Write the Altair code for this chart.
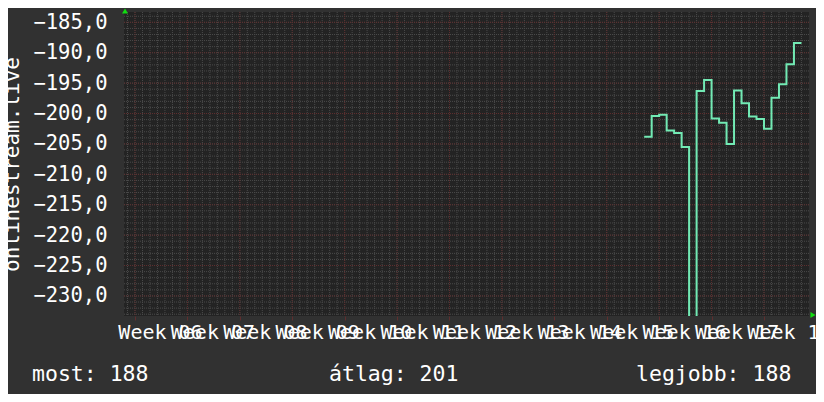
import altair as alt
import pandas as pd

# ---------------- data ----------------
first_day = "2024-04-13"
values = [-203.8, -200.4, -200.2, -202.8, -203.2, -205.5, -236.0, -196.3,
          -194.5, -200.8, -201.5, -205.0, -196.2, -198.3, -200.5, -200.9,
          -202.5, -197.4, -195.2, -191.9, -188.4, -188.4]
series_name = "onlinestream.live"
summary_names = ["most", "átlag", "legjobb"]
summary_values = [188, 201, 188]

week_starts = ["2024-02-05", "2024-02-12", "2024-02-19", "2024-02-26", "2024-03-04",
               "2024-03-11", "2024-03-18", "2024-03-25", "2024-04-01", "2024-04-08",
               "2024-04-15", "2024-04-22", "2024-04-29"]
y_major = [-230, -225, -220, -215, -210, -205, -200, -195, -190, -185]
y_minor = list(range(-233, -183))
x_domain = ["2024-02-03T12:45:00Z", "2024-05-05T00:15:00Z"]
y_domain = [-233.3, -183.3]

# ---------------- helpers ----------------
def ms(s):
    t = pd.Timestamp(s)
    if t.tzinfo is None:
        t = t.tz_localize("UTC")
    return int(t.timestamp() * 1000)

dates = pd.date_range(first_day, periods=len(values), freq="D", tz="UTC")
df = pd.DataFrame({"t": [int(d.timestamp() * 1000) for d in dates], "v": values})

days = pd.date_range("2024-02-04", "2024-05-04", freq="D", tz="UTC")
df_days = pd.DataFrame({"t": [int(d.timestamp() * 1000) for d in days]})
df_weeks = pd.DataFrame({"t": [ms(w) for w in week_starts]})
df_ymin = pd.DataFrame({"v": y_minor})
df_ymaj = pd.DataFrame({"v": y_major})

W, H = 685, 304
FONT = "DejaVu Sans Mono"
TXT = "#ffffff"

xs = alt.Scale(type="utc", domain=[ms(x_domain[0]), ms(x_domain[1])])
ys = alt.Scale(domain=y_domain, nice=False, zero=False)

minor_col = "#4a4a4a"
major_col = "#5e2e2e"

x_axis = alt.Axis(
    values=[ms(w) for w in week_starts],
    labelExpr="'Week ' + utcFormat(datum.value, '%V')",
    grid=False, domain=False, ticks=True, tickColor=major_col, tickSize=4,
    labelOffset=25, labelOverlap=False, labelFlush=False, labelBound=False,
    labelFont=FONT, labelFontSize=20, labelColor=TXT, labelPadding=2, title=None)

y_axis = alt.Axis(
    values=y_major,
    labelExpr="replace(format(datum.value, '.1f'), '.', ',')",
    grid=False, domain=False, ticks=False,
    labelFont=FONT, labelFontSize=20.5, labelColor=TXT, labelPadding=17,
    labelOverlap=False, labelFlush=False, labelBound=False,
    title=series_name, titleFont=FONT, titleFontSize=21, titleFontWeight="normal",
    titleColor=TXT, titleAngle=270, titleX=-106, titleY=H / 2,
    titleAlign="center", titleBaseline="alphabetic")

vmin = alt.Chart(df_days).mark_rule(color=minor_col, strokeDash=[1, 1], strokeWidth=1).encode(
    x=alt.X("t:T", scale=xs, axis=x_axis))
hmin = alt.Chart(df_ymin).mark_rule(color=minor_col, strokeDash=[1, 1], strokeWidth=1).encode(
    y=alt.Y("v:Q", scale=ys, axis=y_axis))
vmaj = alt.Chart(df_weeks).mark_rule(color=major_col, strokeDash=[1, 1], strokeWidth=1).encode(
    x=alt.X("t:T", scale=xs, axis=x_axis))
hmaj = alt.Chart(df_ymaj).mark_rule(color=major_col, strokeDash=[1, 1], strokeWidth=1).encode(
    y=alt.Y("v:Q", scale=ys, axis=y_axis))

line = alt.Chart(df).mark_line(interpolate="step-after", color="#72eab4",
                               strokeWidth=2, clip=True).encode(
    x=alt.X("t:T", scale=xs, axis=x_axis),
    y=alt.Y("v:Q", scale=ys, axis=y_axis))

one = pd.DataFrame({"a": [0]})
arrow_up = alt.Chart(one).mark_point(shape="triangle-up", filled=True, color="#11dd11",
                                     size=35, opacity=1).encode(
    x=alt.value(1), y=alt.value(-1))
arrow_right = alt.Chart(one).mark_point(shape="triangle-right", filled=True, color="#11dd11",
                                        size=35, opacity=1).encode(
    x=alt.value(W + 4), y=alt.value(H - 1))

text_x = [-92, 205, 512]
texts = []
for name, val, tx in zip(summary_names, summary_values, text_x):
    d = pd.DataFrame({"label": [f"{name}: {val}"]})
    texts.append(
        alt.Chart(d).mark_text(font=FONT, fontSize=21.5, color=TXT, align="left",
                               baseline="alphabetic").encode(
            text="label:N", x=alt.value(tx), y=alt.value(369)))

chart = alt.layer(vmin, hmin, vmaj, hmaj, line, arrow_up, arrow_right, *texts).properties(
    width=W, height=H,
    background="#313131",
    autosize=alt.AutoSizeParams(type="none"),
    padding={"left": 116, "top": 4, "right": 7, "bottom": 78},
).configure_view(fill="#232323", stroke=None)

chart.save("out.html", embed_options={"renderer": "svg", "actions": False})
